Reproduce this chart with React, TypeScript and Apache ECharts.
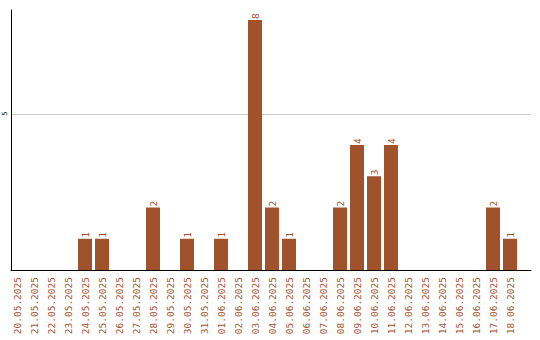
import React, { useEffect, useRef } from "react";
import * as echarts from "echarts";

const categories = [
  "20.05.2025", "21.05.2025", "22.05.2025", "23.05.2025", "24.05.2025",
  "25.05.2025", "26.05.2025", "27.05.2025", "28.05.2025", "29.05.2025",
  "30.05.2025", "31.05.2025", "01.06.2025", "02.06.2025", "03.06.2025",
  "04.06.2025", "05.06.2025", "06.06.2025", "07.06.2025", "08.06.2025",
  "09.06.2025", "10.06.2025", "11.06.2025", "12.06.2025", "13.06.2025",
  "14.06.2025", "15.06.2025", "16.06.2025", "17.06.2025", "18.06.2025",
];
const values = [0, 0, 0, 0, 1, 1, 0, 0, 2, 0, 1, 0, 1, 0, 8, 2, 1, 0, 0, 2, 4, 3, 4, 0, 0, 0, 0, 0, 2, 1];
const yMax = 8.32;
const yInterval = 5;

const BROWN = "#a0522d";
const FONT = "DejaVu Sans Mono";

export default function App() {
  const ref = useRef<HTMLDivElement>(null);
  useEffect(() => {
    if (!ref.current) return;
    const chart = echarts.init(ref.current, null, { renderer: "svg" });
    chart.setOption({
      animation: false,
      grid: [
        { left: 8.5, width: 510, top: 10, bottom: 70 },
        { left: 11, right: 9, top: 10, bottom: 70 },
      ],
      xAxis: [
        {
          type: "category",
          gridIndex: 0,
          data: categories,
          axisLine: { show: false },
          axisTick: { show: false },
          axisLabel: {
            rotate: 90,
            interval: 0,
            margin: 7,
            color: BROWN,
            fontFamily: FONT,
            fontSize: 9.5,
          },
        },
        {
          type: "value",
          gridIndex: 1,
          min: 0,
          max: 1,
          axisLine: { show: true, lineStyle: { color: "#000", width: 1 } },
          axisTick: { show: false },
          axisLabel: { show: false },
          splitLine: { show: false },
        },
      ],
      yAxis: [
        {
          type: "value",
          gridIndex: 0,
          min: 0,
          max: yMax,
          show: false,
          splitLine: { show: false },
        },
        {
          type: "value",
          gridIndex: 1,
          min: 0,
          max: yMax,
          interval: yInterval,
          axisLine: { show: true, lineStyle: { color: "#000", width: 1 } },
          axisTick: { show: false },
          splitLine: {
            show: true,
            showMaxLine: false,
            lineStyle: { color: ["#cccccc", "#cccccc", "rgba(0,0,0,0)"], width: 1 },
          },
          axisLabel: {
            showMinLabel: false,
            showMaxLabel: false,
            rotate: 90,
            margin: 3,
            color: "#000",
            fontFamily: FONT,
            fontSize: 7,
          },
        },
      ],
      series: [
        {
          type: "bar",
          xAxisIndex: 0,
          yAxisIndex: 0,
          data: values,
          barWidth: 14,
          itemStyle: { color: BROWN },
          label: {
            show: true,
            position: "top",
            rotate: 90,
            align: "left",
            verticalAlign: "middle",
            distance: 1,
            color: BROWN,
            fontFamily: FONT,
            fontSize: 9.5,
            formatter: (p: any) => (p.value ? String(p.value) : ""),
          },
        },
      ],
    });
    return () => chart.dispose();
  }, []);
  return <div ref={ref} style={{ width: 540, height: 340, position: "absolute", left: 0, top: 0 }} />;
}
